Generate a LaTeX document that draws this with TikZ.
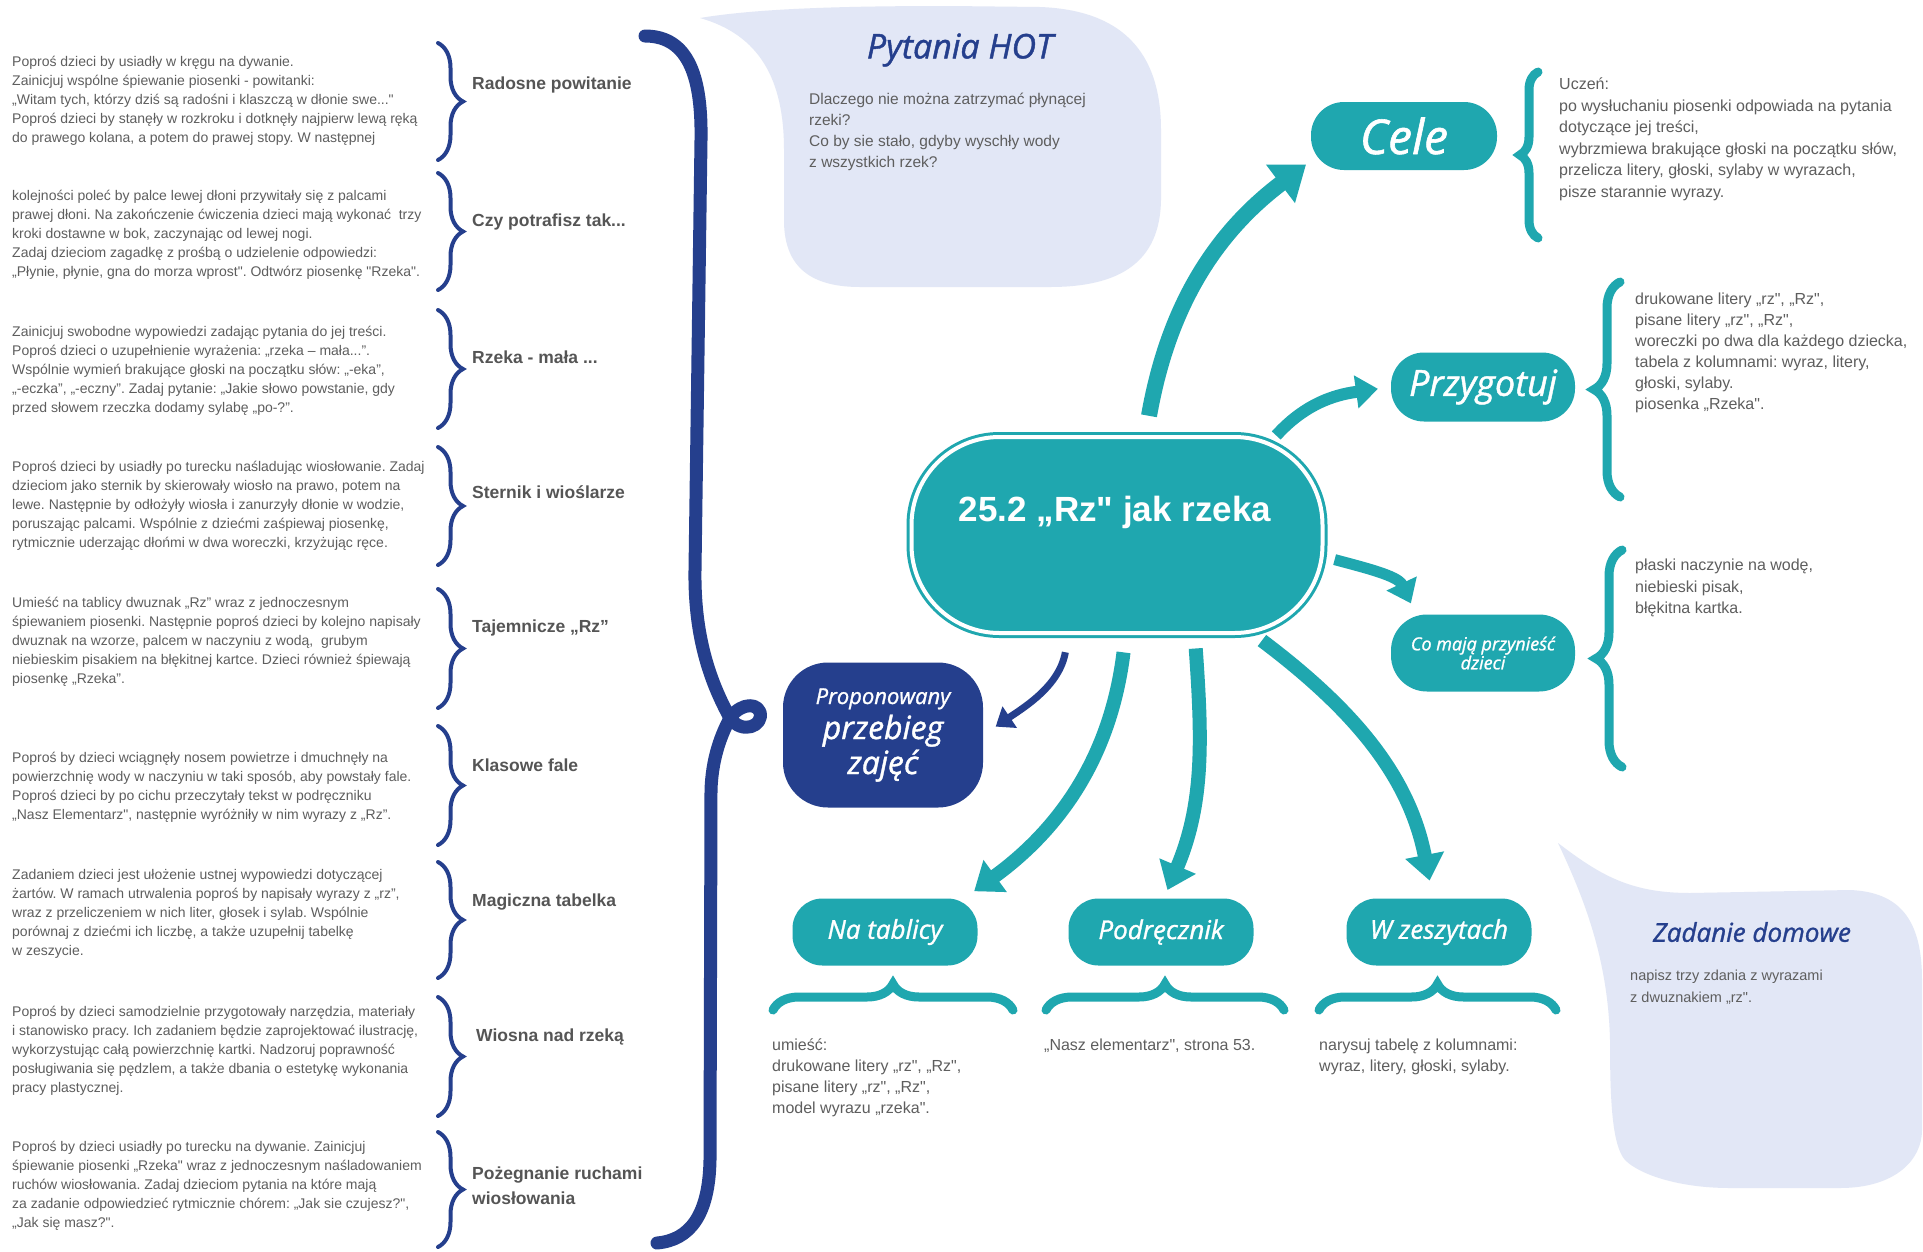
\documentclass[tikz,border=0pt]{standalone}
\usepackage{fontspec}
\setmainfont{Liberation Sans}[Ligatures=TeXOff]
\newfontfamily\handfont{Open Sans}[FakeBold=1.2]
\usetikzlibrary{arrows.meta,decorations.pathreplacing}
\frenchspacing

\definecolor{rzteal}{HTML}{1FA7AF}
\definecolor{rznavy}{HTML}{253F8D}
\definecolor{bubble}{HTML}{E2E7F6}
\definecolor{txtgray}{HTML}{5E5E5E}
\definecolor{lblgray}{HTML}{555555}

\begin{document}
\begin{tikzpicture}[x=1pt,y=-1pt,
  txt/.style={anchor=north west,inner sep=0pt,align=left,text=txtgray,font=\fontsize{14}{19}\selectfont},
  rtxt/.style={txt,font=\fontsize{16}{21.5}\selectfont},
  lbl/.style={anchor=west,inner sep=0pt,align=left,text=lblgray,font=\bfseries\fontsize{17.5}{25}\selectfont},
  blob/.style={rectangle,rounded corners=30pt,fill=rzteal,text=white,inner sep=0pt,align=center,
    minimum width=185pt,minimum height=67pt,font=\handfont\itshape\fontsize{26}{30}\selectfont},
  hand/.style={inner sep=0pt,text=rznavy,font=\handfont\itshape\fontsize{34}{38}\selectfont},
  navybrace/.style={rznavy,line width=4pt,line cap=round,decorate,decoration={brace,amplitude=25pt}},
  tealbrace/.style={rzteal,line width=9pt,line cap=round,decorate,decoration={brace,amplitude=#1}},
  tealbrace/.default=26pt,
  fatarrow/.style={rzteal,line width=14pt,-{Triangle[length=26pt,width=38pt]}},
  navyarrow/.style={rznavy,line width=7pt,-{Triangle[length=17pt,width=25pt]}}]

  \useasboundingbox (0,0) rectangle (1923,1251);
  \fill[white] (0,0) rectangle (1923,1251);

  % bubbles
  \fill[bubble] (700,18) .. controls (760,8) and (850,6) .. (950,6)
    -- (1040,7) .. controls (1120,10) and (1161,50) .. (1161,130)
    -- (1161,200) .. controls (1160,262) and (1120,287) .. (1050,287)
    -- (860,287) .. controls (805,287) and (784,262) .. (784,220)
    -- (784,150) .. controls (784,80) and (760,35) .. (700,18) -- cycle;
  \fill[bubble] (1558,843) .. controls (1600,875) and (1630,893) .. (1690,893)
    -- (1850,890) .. controls (1900,892) and (1922,920) .. (1922,980)
    -- (1922,1130) .. controls (1922,1160) and (1895,1188) .. (1840,1188)
    -- (1730,1188) .. controls (1680,1188) and (1640,1175) .. (1625,1160)
    .. controls (1612,1145) and (1610,1100) .. (1610,1040)
    .. controls (1608,960) and (1585,900) .. (1558,843) -- cycle;

  % left column
  \node[txt] (T1) at (12,56) {Poproś dzieci by usiadły w kręgu na dywanie.\\Zainicjuj wspólne śpiewanie piosenki - powitanki:\\„Witam tych, którzy dziś są radośni i klaszczą w dłonie swe..."\\Poproś dzieci by stanęły w rozkroku i dotknęły najpierw lewą ręką\\do prawego kolana, a potem do prawej stopy. W następnej};
  \node[txt] (T2) at (12,190) {kolejności poleć by palce lewej dłoni przywitały się z palcami\\prawej dłoni. Na zakończenie ćwiczenia dzieci mają wykonać \ trzy\\kroki dostawne w bok, zaczynając od lewej nogi.\\Zadaj dzieciom zagadkę z prośbą o udzielenie odpowiedzi:\\„Płynie, płynie, gna do morza wprost". Odtwórz piosenkę "Rzeka".};
  \node[txt] (T3) at (12,326) {Zainicjuj swobodne wypowiedzi zadając pytania do jej treści.\\Poproś dzieci o uzupełnienie wyrażenia: „rzeka – mała...”.\\Wspólnie wymień brakujące głoski na początku słów: „-eka”,\\„-eczka”, „-eczny”. Zadaj pytanie: „Jakie słowo powstanie, gdy\\przed słowem rzeczka dodamy sylabę „po-?”.};
  \node[txt] (T4) at (12,461) {Poproś dzieci by usiadły po turecku naśladując wiosłowanie. Zadaj\\dzieciom jako sternik by skierowały wiosło na prawo, potem na\\lewe. Następnie by odłożyły wiosła i zanurzyły dłonie w wodzie,\\poruszając palcami. Wspólnie z dziećmi zaśpiewaj piosenkę,\\rytmicznie uderzając dłońmi w dwa woreczki, krzyżując ręce.};
  \node[txt] (T5) at (12,597) {Umieść na tablicy dwuznak „Rz” wraz z jednoczesnym\\śpiewaniem piosenki. Następnie poproś dzieci by kolejno napisały\\dwuznak na wzorze, palcem w naczyniu z wodą, \ grubym\\niebieskim pisakiem na błękitnej kartce. Dzieci również śpiewają\\piosenkę „Rzeka”.};
  \node[txt] (T6) at (12,752) {Poproś by dzieci wciągnęły nosem powietrze i dmuchnęły na\\powierzchnię wody w naczyniu w taki sposób, aby powstały fale.\\Poproś dzieci by po cichu przeczytały tekst w podręczniku\\„Nasz Elementarz", następnie wyróżniły w nim wyrazy z „Rz”.};
  \node[txt] (T7) at (12,869) {Zadaniem dzieci jest ułożenie ustnej wypowiedzi dotyczącej\\żartów. W ramach utrwalenia poproś by napisały wyrazy z „rz”,\\wraz z przeliczeniem w nich liter, głosek i sylab. Wspólnie\\porównaj z dziećmi ich liczbę, a także uzupełnij tabelkę\\w zeszycie.};
  \node[txt] (T8) at (12,1006) {Poproś by dzieci samodzielnie przygotowały narzędzia, materiały\\i stanowisko pracy. Ich zadaniem będzie zaprojektować ilustrację,\\wykorzystując całą powierzchnię kartki. Nadzoruj poprawność\\posługiwania się pędzlem, a także dbania o estetykę wykonania\\pracy plastycznej.};
  \node[txt] (T9) at (12,1141) {Poproś by dzieci usiadły po turecku na dywanie. Zainicjuj\\śpiewanie piosenki „Rzeka" wraz z jednoczesnym naśladowaniem\\ruchów wiosłowania. Zadaj dzieciom pytania na które mają\\za zadanie odpowiedzieć rytmicznie chórem: „Jak sie czujesz?",\\„Jak się masz?".};

  \draw[navybrace] (438,43) -- (438,160);
  \draw[navybrace] (438,173) -- (438,290);
  \draw[navybrace] (438,310) -- (438,428);
  \draw[navybrace] (438,447) -- (438,565);
  \draw[navybrace] (438,589) -- (438,708);
  \draw[navybrace] (438,726) -- (438,845);
  \draw[navybrace] (438,862) -- (438,978);
  \draw[navybrace] (438,997) -- (438,1116);
  \draw[navybrace] (438,1132) -- (438,1247);

  \node[lbl] (L1) at (472,85) {Radosne powitanie};
  \node[lbl] (L2) at (472,222) {Czy potrafisz tak...};
  \node[lbl] (L3) at (472,357) {Rzeka - mała ...};
  \node[lbl] (L4) at (472,492) {Sternik i wioślarze};
  \node[lbl] (L5) at (472,628) {Tajemnicze „Rz”};
  \node[lbl] (L6) at (472,765) {Klasowe fale};
  \node[lbl] (L7) at (472,902) {Magiczna tabelka};
  \node[lbl] (L8) at (476,1037) {Wiosna nad rzeką};
  \node[lbl] (L9) at (472,1186) {Pożegnanie ruchami\\wiosłowania};

  % big brace
  \draw[rznavy,line width=13pt,line cap=round,line join=round]
    (645,36) .. controls (690,36) and (702,80) .. (701,140)
    -- (695,570)
    .. controls (694,640) and (712,685) .. (730,718)
    .. controls (742,735) and (764,726) .. (760,712)
    .. controls (755,700) and (735,706) .. (728,722)
    .. controls (720,738) and (712,760) .. (711,790)
    -- (710,1160)
    .. controls (709,1215) and (690,1240) .. (657,1243);

  % questions
  \node[hand] (Hot) at (960,50) {Pytania HOT};
  \node[rtxt,font=\fontsize{15.5}{21}\selectfont] (HotTxt) at (809,93) {Dlaczego nie można zatrzymać płynącej\\rzeki?\\Co by sie stało, gdyby wyschły wody\\z wszystkich rzek?};

  % centre
  \node[rectangle,rounded corners=88pt,minimum width=411pt,minimum height=196pt,
    fill=rzteal,draw=rzteal,line width=3pt,double=white,double distance=4pt] (Topic) at (1117,535) {};
  \node[text=white,font=\bfseries\fontsize{35}{40}\selectfont] (Title) at (1115,512) {25.2 „Rz" jak rzeka};

  \node[blob,rounded corners=33pt,minimum width=186pt,minimum height=68pt,font=\handfont\itshape\fontsize{48}{52}\selectfont] (Cele) at (1404,136) {Cele};
  \node[blob,rounded corners=33pt,minimum width=184pt,minimum height=69pt,font=\handfont\itshape\fontsize{36}{40}\selectfont] (Przyg) at (1483,387) {Przygotuj};
  \node[blob,rounded corners=36pt,minimum width=184pt,minimum height=77pt,font=\handfont\itshape\fontsize{18}{19}\selectfont] (Co) at (1483,653) {Co mają przynieść\\dzieci};
  \node[blob] (Tab) at (885,932) {Na tablicy};
  \node[blob] (Podr) at (1161,932) {Podręcznik};
  \node[blob] (Zesz) at (1439,932) {W zeszytach};
  \node[blob,fill=rznavy,rounded corners=45pt,minimum width=200pt,minimum height=145pt,
    font=\handfont\itshape\fontsize{32}{35}\selectfont] (Przeb) at (883,735)
    {{\fontsize{22}{35}\selectfont Proponowany}\\przebieg\\zajęć};

  % arrows
  \draw[fatarrow,line width=16pt,-{Triangle[length=32pt,width=46pt]},shorten <=20pt,shorten >=6pt]
    (Topic.74) to[out=80,in=217] (Cele.195);
  \draw[fatarrow,line width=12pt,-{Triangle[length=22pt,width=32pt]},shorten >=13pt]
    (Topic.32) to[out=48,in=188] (Przyg.180);
  \draw[fatarrow,line width=11pt,-{Triangle[length=22pt,width=32pt]},shorten <=11pt,shorten >=12pt]
    (Topic.-6) to[out=-15,in=115] (Co.150);
  \draw[fatarrow,shorten <=18pt,shorten >=12pt] (Topic.-85) to[out=-97,in=36] (Tab.23);
  \draw[fatarrow,shorten <=14pt,shorten >=9pt] (Topic.-52) to[out=-86,in=67] (Podr.85);
  \draw[fatarrow,shorten <=10pt,shorten >=18pt] (Topic.-36) to[out=-37,in=101] (Zesz.100);
  \draw[navyarrow,shorten <=18pt,shorten >=15pt] (Topic.-116) to[out=-100,in=34] (Przeb.east);

  % right column
  \draw[tealbrace=18pt] (1538,238) -- (1538,72);
  \draw[tealbrace] (1620,497) -- (1620,282);
  \draw[tealbrace] (1622,767) -- (1622,550);
  \node[rtxt] (CeleTxt) at (1559,78) {Uczeń:\\po wysłuchaniu piosenki odpowiada na pytania\\dotyczące jej treści,\\wybrzmiewa brakujące głoski na początku słów,\\przelicza litery, głoski, sylaby w wyrazach,\\pisze starannie wyrazy.};
  \node[rtxt,font=\fontsize{16}{21}\selectfont] (PrzygTxt) at (1635,293) {drukowane litery „rz", „Rz",\\pisane litery „rz", „Rz",\\woreczki po dwa dla każdego dziecka,\\tabela z kolumnami: wyraz, litery,\\głoski, sylaby.\\piosenka „Rzeka".};
  \node[rtxt] (CoTxt) at (1635,559) {płaski naczynie na wodę,\\niebieski pisak,\\błękitna kartka.};

  % bottom row
  \draw[tealbrace] (773,1010) -- (1013,1010);
  \draw[tealbrace] (1046,1010) -- (1284,1010);
  \draw[tealbrace] (1319,1010) -- (1556,1010);
  \node[rtxt,font=\fontsize{16}{21}\selectfont] (TabTxt) at (772,1039) {umieść:\\drukowane litery „rz", „Rz",\\pisane litery „rz", „Rz",\\model wyrazu „rzeka".};
  \node[rtxt] (PodrTxt) at (1044,1039) {„Nasz elementarz", strona 53.};
  \node[rtxt,font=\fontsize{16}{21}\selectfont] (ZeszTxt) at (1319,1039) {narysuj tabelę z kolumnami:\\wyraz, litery, głoski, sylaby.};

  % homework
  \node[hand,font=\handfont\itshape\fontsize{26}{30}\selectfont] (Dom) at (1752,932) {Zadanie domowe};
  \node[rtxt,font=\fontsize{14.5}{22}\selectfont] (DomTxt) at (1630,970) {napisz trzy zdania z wyrazami\\z dwuznakiem „rz".};
\end{tikzpicture}
\end{document}
